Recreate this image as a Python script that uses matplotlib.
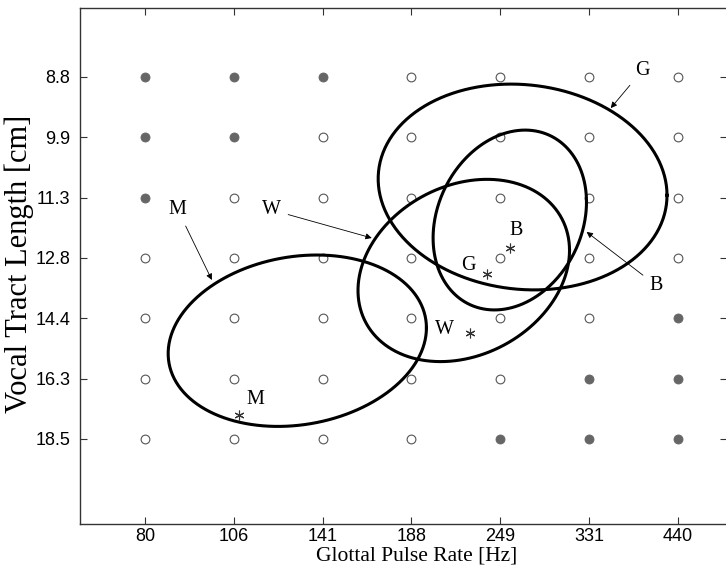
import numpy as np
import matplotlib
matplotlib.use("Agg")
import matplotlib.pyplot as plt

# grid of glottal pulse rate / vocal tract length combinations
gpr_labels = ['80', '106', '141', '188', '249', '331', '440']
vtl_labels = ['8.8', '9.9', '11.3', '12.8', '14.4', '16.3', '18.5']
filled = [
    [1, 1, 1, 0, 0, 0, 0],
    [1, 1, 0, 0, 0, 0, 0],
    [1, 0, 0, 0, 0, 0, 0],
    [0, 0, 0, 0, 0, 0, 0],
    [0, 0, 0, 0, 0, 0, 1],
    [0, 0, 0, 0, 0, 1, 1],
    [0, 0, 0, 0, 1, 1, 1],
]

# speaker group ellipses in grid-step units: centre x, centre y, spread x, spread y, correlation
groups = ['M', 'W', 'G', 'B']
ell_cx = [1.715, 3.588, 4.250, 4.106]
ell_cy = [4.373, 3.209, 1.826, 2.373]
ell_sx = [1.453, 1.190, 1.625, 0.863]
ell_sy = [1.420, 1.510, 1.705, 1.490]
ell_r = [-0.15, -0.22, 0.08, -0.20]

# group means (asterisks) and their labels
mean_x = [1.06, 3.656, 3.85, 4.106]
mean_y = [5.60, 4.249, 3.27, 2.84]
mean_lx = [1.24, 3.375, 3.64, 4.18]
mean_ly = [5.35, 4.19, 3.12, 2.54]

# outer labels and arrow tips
lab_x = [0.371, 1.429, 5.60, 5.748]
lab_y = [2.207, 2.207, -0.11, 3.45]
tip_x = [0.754, 2.553, 5.242, 4.97]
tip_y = [3.367, 2.671, 0.519, 2.57]

serif = 'Liberation Serif'
sans = 'Liberation Sans'

fig = plt.figure(figsize=(7.26, 5.74), dpi=100)
ax = fig.add_axes([80/726, 1-524/574, 647/726, 516/574])

for j in range(len(vtl_labels)):
    for i in range(len(gpr_labels)):
        if filled[j][i]:
            ax.plot(i, j, 'o', ms=6.5, mfc='#666666', mec='#666666', mew=0.6)
        else:
            ax.plot(i, j, 'o', ms=6.3, mfc='white', mec='#555555', mew=0.8)

t = np.linspace(0, 2*np.pi, 400)
for k in range(len(groups)):
    x = ell_cx[k] + ell_sx[k]*np.cos(t)
    y = ell_cy[k] + ell_sy[k]*(ell_r[k]*np.cos(t) + np.sqrt(1-ell_r[k]**2)*np.sin(t))
    ax.plot(x, y, color='black', lw=2.2)

ax.plot(mean_x, mean_y, ls='none', marker=(6, 2, 0), ms=7, mew=0.8, color='#333333')
for k in range(len(groups)):
    ax.text(mean_lx[k], mean_ly[k], groups[k], ha='center', va='center',
            fontsize=14.5, family=serif)
    ax.annotate(groups[k], xy=(tip_x[k], tip_y[k]), xytext=(lab_x[k], lab_y[k]),
                ha='center', va='center', fontsize=14.5, family=serif,
                arrowprops=dict(arrowstyle='-|>', color='black', lw=0.6,
                                mutation_scale=9, shrinkA=3, shrinkB=0))

ax.set_xlim(-0.73, 6.55)
ax.set_ylim(7.41, -1.14)
ax.set_xticks(range(len(gpr_labels)))
ax.set_xticklabels(gpr_labels, family=sans, fontsize=13)
ax.set_yticks(range(len(vtl_labels)))
ax.set_yticklabels(vtl_labels, family=sans, fontsize=13)
ax.tick_params(direction='in', length=5, width=0.8, top=True, right=True, color='#333333')
ax.tick_params(axis='y', pad=7)
ax.tick_params(axis='x', pad=3)
for s in ax.spines.values():
    s.set_linewidth(1.0)
    s.set_color('#333333')

ax.set_xlabel('Glottal Pulse Rate [Hz]', family=serif, fontsize=15.5)
ax.set_ylabel('Vocal Tract Length [cm]', family=serif, fontsize=22)
ax.xaxis.set_label_coords((417-80)/647, -(546-524)/516)
ax.yaxis.set_label_coords(-(80-34)/647, 0.5 - (264-266)/516)

fig.savefig('out.png', dpi=100)
